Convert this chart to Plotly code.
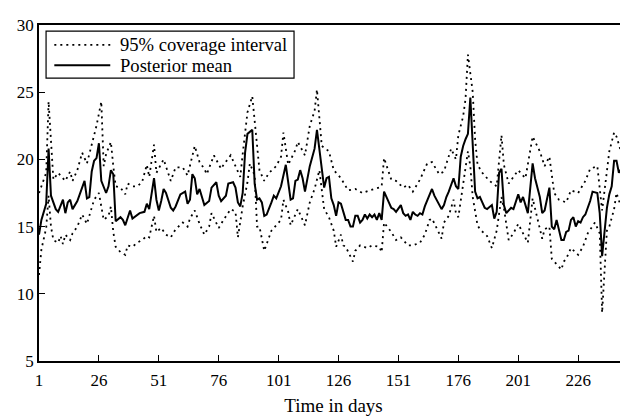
import plotly.graph_objects as go

# posterior mean (day, value)
mean_days = [1, 2, 4, 5, 6, 8, 9, 11, 12, 13, 14, 15, 17, 19, 20, 21, 22, 23, 24, 25,
             26, 27, 29, 30, 31, 32, 33, 35, 36, 37, 39, 40, 42, 43, 45, 46, 47, 49, 50, 51,
             52, 53, 54, 56, 57, 58, 60, 62, 63, 64, 65, 66, 67, 68, 70, 72, 73, 75, 76, 77,
             79, 80, 82, 83, 84, 85, 86, 87, 88, 90, 91, 92, 93, 94, 95, 96, 98, 99, 100, 101,
             102, 104, 105, 106, 107, 108, 109, 110, 111, 112, 114, 116, 117, 119, 120, 121, 122, 123, 124, 125,
             126, 127, 128, 129, 130, 131, 132, 133, 134, 135, 136, 137, 138, 139, 140, 141, 142, 143, 144, 145,
             147, 148, 149, 150, 152, 153, 154, 155, 156, 157, 158, 159, 160, 161, 162, 164, 165, 166, 168, 169,
             170, 171, 172, 174, 175, 176, 177, 178, 179, 180, 181, 182, 183, 184, 185, 186, 187, 188, 190, 191,
             192, 193, 194, 195, 196, 198, 199, 201, 202, 203, 205, 207, 208, 210, 211, 212, 214, 215, 216, 217,
             219, 220, 221, 222, 223, 224, 225, 226, 227, 228, 229, 231, 232, 234, 235, 236, 238, 239, 240, 241,
             242, 243, 244, 245, 246, 247]
mean_vals = [14.4, 15.5, 16.7, 20.8, 17.3, 16.3, 16.1, 17.0, 16.0, 16.8, 17.0, 16.3, 16.9, 17.8, 18.4, 17.1, 17.2, 19.1, 19.9, 20.1,
             21.2, 18.4, 17.5, 18.0, 19.2, 18.9, 15.4, 15.7, 15.5, 15.1, 16.2, 15.6, 15.9, 16.0, 16.1, 16.7, 16.3, 18.6, 17.0, 16.2,
             16.9, 17.8, 17.5, 16.4, 16.2, 16.5, 17.4, 17.6, 16.7, 17.0, 18.9, 18.6, 17.4, 17.8, 16.6, 16.9, 17.9, 18.3, 17.3, 16.9,
             17.3, 18.2, 18.3, 17.9, 16.8, 16.5, 17.5, 20.5, 21.9, 22.2, 18.2, 17.0, 17.1, 16.8, 15.8, 15.9, 16.8, 17.3, 17.1, 17.6,
             18.0, 19.6, 18.3, 17.0, 17.1, 18.4, 18.5, 19.2, 18.6, 17.6, 19.5, 20.8, 22.2, 19.5, 17.9, 18.6, 18.7, 17.1, 16.6, 15.8,
             16.8, 16.7, 16.0, 15.5, 15.5, 15.0, 15.0, 15.8, 15.8, 15.3, 15.5, 15.9, 15.6, 15.9, 15.7, 15.9, 15.5, 16.0, 15.5, 17.6,
             16.8, 16.4, 16.3, 16.1, 16.6, 16.0, 15.8, 15.9, 15.5, 16.1, 15.9, 15.8, 16.0, 15.9, 16.5, 17.3, 17.8, 17.3, 16.7, 16.3,
             16.6, 17.2, 17.6, 18.6, 18.0, 17.8, 20.2, 21.0, 21.5, 21.9, 24.6, 21.5, 17.6, 17.1, 17.2, 16.8, 16.4, 16.3, 16.6, 15.6,
             16.1, 19.0, 19.3, 16.6, 16.0, 16.4, 16.3, 17.4, 16.8, 17.2, 16.0, 19.7, 18.6, 17.2, 16.0, 16.2, 17.9, 15.0, 14.8, 15.5,
             14.0, 14.0, 14.6, 14.7, 15.5, 15.7, 15.0, 15.4, 15.3, 15.7, 15.9, 16.9, 17.6, 17.5, 16.0, 12.8, 16.4, 17.4, 18.0, 19.9,
             19.9, 19.0, 19.3, 18.0, 17.6, 19.0]

# upper bound of the 95% interval
upper_days = [1, 4, 5, 7, 9, 12, 14, 15, 17, 19, 21, 23, 25, 27, 28, 29, 31, 32, 33, 35,
              37, 38, 40, 42, 44, 46, 47, 49, 50, 53, 56, 58, 61, 63, 66, 68, 70, 71, 74, 77,
              78, 81, 85, 86, 88, 90, 93, 95, 97, 100, 102, 103, 105, 108, 109, 112, 114, 116, 117, 119,
              122, 124, 127, 130, 133, 136, 139, 143, 144, 145, 148, 150, 153, 155, 157, 160, 163, 165, 168, 170,
              173, 175, 176, 178, 179, 180, 182, 183, 184, 186, 189, 192, 194, 195, 197, 201, 204, 207, 210, 212,
              214, 216, 218, 221, 223, 226, 229, 231, 234, 236, 238, 239, 241, 242, 244, 246, 247]
upper_vals = [17.5, 19.0, 24.3, 18.5, 19.0, 18.4, 19.1, 18.4, 19.2, 20.5, 19.7, 21.0, 22.5, 24.3, 19.5, 20.4, 21.3, 19.5, 18.0, 17.9,
              17.4, 18.2, 18.0, 18.0, 18.3, 19.6, 18.7, 21.1, 19.0, 20.0, 18.4, 19.4, 19.4, 18.8, 21.0, 19.8, 19.3, 18.9, 20.3, 19.3,
              19.6, 20.3, 18.7, 20.4, 23.5, 24.7, 19.2, 18.4, 19.0, 19.5, 20.2, 22.0, 19.6, 20.7, 21.3, 20.3, 22.5, 23.6, 25.2, 21.0,
              20.6, 19.2, 18.6, 17.7, 17.8, 17.5, 17.7, 17.9, 18.0, 20.1, 18.5, 18.4, 17.9, 18.1, 17.6, 18.5, 19.7, 19.8, 18.9, 19.1,
              20.8, 20.0, 21.8, 23.2, 24.5, 27.8, 25.0, 21.5, 19.6, 19.0, 18.4, 18.0, 21.8, 19.6, 18.2, 19.2, 18.6, 21.7, 20.6, 19.5,
              20.2, 17.5, 17.0, 16.8, 17.7, 17.5, 18.4, 19.3, 19.5, 16.2, 19.2, 20.6, 22.0, 21.7, 20.5, 20.1, 21.7]

# lower bound of the 95% interval
lower_days = [1, 2, 3, 4, 5, 6, 7, 9, 10, 11, 12, 14, 15, 17, 19, 21, 24, 26, 28, 30,
              31, 32, 33, 35, 37, 38, 40, 42, 44, 46, 47, 49, 50, 52, 54, 56, 58, 61, 63, 64,
              66, 68, 70, 72, 73, 76, 78, 81, 83, 84, 86, 88, 89, 91, 92, 93, 95, 97, 98, 100,
              102, 103, 105, 106, 108, 109, 112, 114, 116, 118, 120, 122, 124, 125, 127, 128, 129, 132, 133, 135,
              138, 140, 143, 144, 145, 148, 150, 152, 155, 157, 160, 162, 164, 165, 168, 169, 170, 172, 174, 175,
              176, 178, 179, 180, 181, 182, 184, 185, 188, 190, 192, 194, 195, 197, 199, 201, 203, 205, 207, 209,
              211, 212, 214, 215, 216, 219, 220, 221, 223, 226, 228, 230, 233, 235, 236, 238, 239, 241, 242, 244,
              246, 247]
lower_vals = [11.4, 13.3, 14.1, 14.9, 17.3, 15.0, 14.0, 13.8, 14.3, 13.7, 14.4, 14.0, 14.5, 15.0, 15.9, 15.2, 17.0, 17.5, 15.5, 15.8,
              16.5, 14.6, 13.5, 13.1, 12.9, 13.6, 13.5, 13.8, 14.0, 14.3, 14.2, 15.8, 14.6, 14.9, 14.4, 14.2, 14.8, 15.3, 15.0, 15.6,
              16.2, 15.2, 14.4, 15.0, 16.0, 14.9, 15.5, 16.3, 16.1, 14.2, 16.5, 18.3, 19.7, 18.8, 15.0, 15.0, 13.2, 14.2, 14.7, 15.1,
              15.5, 17.0, 16.1, 15.1, 16.0, 16.3, 15.1, 16.8, 17.8, 19.2, 16.3, 15.7, 14.7, 13.5, 14.4, 13.6, 13.5, 12.4, 13.2, 13.6,
              13.4, 13.6, 13.5, 13.1, 15.3, 14.6, 14.0, 14.2, 13.6, 13.6, 13.8, 14.4, 15.5, 15.6, 14.5, 14.1, 15.3, 15.8, 17.0, 16.0,
              15.7, 18.0, 19.4, 20.6, 19.5, 17.2, 15.1, 14.8, 14.3, 13.4, 14.7, 17.2, 16.4, 14.0, 14.5, 15.2, 14.5, 13.8, 17.1, 15.6,
              14.1, 14.8, 15.0, 12.6, 12.4, 11.8, 12.4, 12.6, 13.4, 12.9, 13.5, 14.5, 15.3, 14.5, 8.6, 14.7, 15.0, 16.3, 17.5, 16.4,
              15.5, 16.0]

x_ticks = [1, 26, 51, 76, 101, 126, 151, 176, 201, 226]
y_ticks = [5, 10, 15, 20, 25, 30]

FONT = "Liberation Serif, Times New Roman, serif"
dotted = dict(color="black", width=1.8, dash="2px,4px")
solid = dict(color="black", width=2)

fig = go.Figure()
fig.add_trace(go.Scatter(x=upper_days, y=upper_vals, mode="lines", line=dotted,
                         name="95% coverage interval", showlegend=False))
fig.add_trace(go.Scatter(x=lower_days, y=lower_vals, mode="lines", line=dotted,
                         showlegend=False))
fig.add_trace(go.Scatter(x=mean_days, y=mean_vals, mode="lines", line=solid,
                         name="Posterior mean", showlegend=False))

# hand-drawn legend box (paper coords)
fig.add_shape(type="rect", xref="paper", yref="paper", x0=0.012, x1=0.433, y0=0.842, y1=0.982,
              line=dict(color="black", width=1.2), fillcolor="white", layer="above")
fig.add_shape(type="line", xref="paper", yref="paper", x0=0.026, x1=0.121, y0=0.941, y1=0.941,
              line=dotted, layer="above")
fig.add_shape(type="line", xref="paper", yref="paper", x0=0.026, x1=0.121, y0=0.880, y1=0.880,
              line=solid, layer="above")
for label, yy in [("95% coverage interval", 0.941), ("Posterior mean", 0.880)]:
    fig.add_annotation(text=label, xref="paper", yref="paper", x=0.134, y=yy,
                       xanchor="left", yanchor="middle", showarrow=False,
                       font=dict(family=FONT, size=18.6, color="black"))

# page body has an 8px default margin, so margins are shifted to compensate
fig.update_layout(
    width=628, height=419,
    margin=dict(l=31, r=8, t=11, b=66),
    paper_bgcolor="white", plot_bgcolor="white",
    font=dict(family=FONT, size=17, color="black"),
    xaxis=dict(range=[1, 246.8], tickvals=x_ticks, ticks="inside", ticklen=6,
               tickcolor="black", showgrid=False, zeroline=False,
               showline=True, linecolor="black", linewidth=1.5, mirror=True,
               ticklabelstandoff=3,
               title=dict(text="Time in days", font=dict(size=19), standoff=10)),
    yaxis=dict(range=[5, 30], tickvals=y_ticks, ticks="inside", ticklen=6,
               tickcolor="black", showgrid=False, zeroline=False,
               showline=True, linecolor="black", linewidth=1.5),
)

fig.write_html("out.html")
